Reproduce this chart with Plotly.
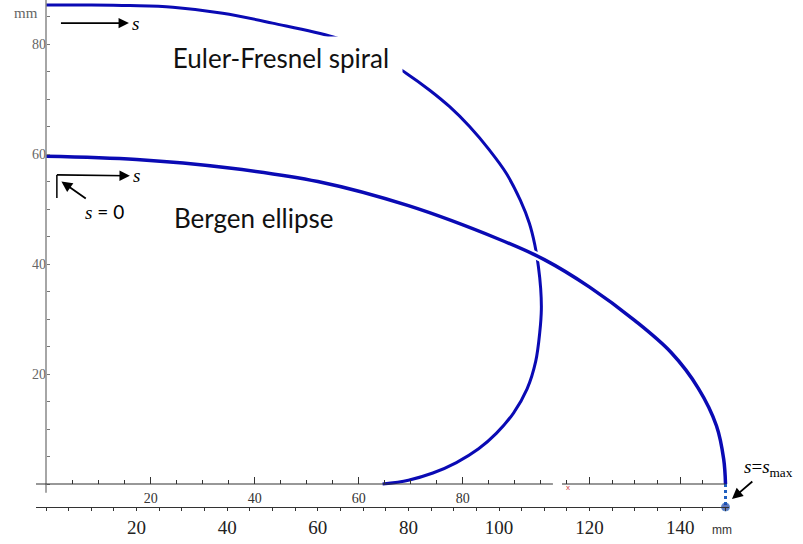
import plotly.graph_objects as go

# ---------------- data (mm) ----------------
spiral_x = [0, 10, 18.5, 28, 39, 50, 63.4, 71.5, 79.5, 84.7, 89.1, 93.5, 97.9, 101.6, 104.7,
            106.7, 107.9, 108.7, 109.2, 109.35, 109.0, 108.1, 106.2, 103.2, 99.4, 95.5, 90.6,
            85.4, 80.0, 74.3]
spiral_y = [87.1, 87.1, 87.0, 86.7, 85.6, 83.8, 81.3, 78.8, 74.7, 71.6, 68.6, 65.0, 60.7, 56.5, 51.6,
            47.4, 43.5, 39.5, 35.5, 31.8, 27.6, 22.3, 17.3, 12.9, 9.2, 6.4, 3.9,
            2.0, 0.7, 0.0]

ellipse_x = [0, 20, 40, 60, 80, 100, 110, 120, 130, 138, 144, 148, 149.6, 150]
ellipse_y = [59.6, 59.0, 57.5, 55.0, 50.6, 44.5, 40.8, 35.8, 29.7, 23.9, 17.4, 10.6, 4.5, 0]

s_max_x = [150, 150]
s_max_y = [0, -4.18]

# bottom (mm) axis labels
bottom_tickvals = [20, 40, 60, 80, 100, 120, 140]
bottom_ticktext = ["20", "40", "60", "80", "100", "120", "140"]
# inner axis (at y = 0) labels
inner_tickvals = [20, 40, 60, 80]
inner_ticktext = ["20", "40", "60", "80"]
inner_minor = [5, 10, 15, 25, 30, 35, 45, 50, 55, 65, 70, 75, 85, 90, 95]
right_major = [120, 140]
right_minor = [115, 125, 130, 135, 145]
# y axis labels
y_tickvals = [20, 40, 60, 80]
y_ticktext = ["20", "40", "60", "80"]

# ---------------- layout geometry ----------------
W, H = 803, 544
L, R, T, B = 36, 74, 0, 37
PW, PH = W - L - R, H - T - B
XMIN, XMAX = -2.208, 150.77
YMIN, YMAX = -4.18, 88.0
PX_PER_MM = PW / (XMAX - XMIN)
# inner axis uses its own scale (5.2 px per unit, zero at the y axis)
PX_PER_U = 5.2
def to_u(xmm):
    return (xmm * PX_PER_MM - 0.7) / PX_PER_U
def px_x(px):   # page pixel -> paper x
    return (px - L) / PW
def px_y(py):   # page pixel -> paper y
    return (T + PH - py) / PH
inner_pos = (0 - YMIN) / (YMAX - YMIN)
yaxis_pos = (0 - XMIN) / (XMAX - XMIN)

BLUE = "#0a0ab4"
AX = "#333333"

fig = go.Figure()
fig.add_trace(go.Scatter(x=spiral_x, y=spiral_y, mode="lines",
                         line=dict(color=BLUE, width=3, shape="spline", smoothing=1.0),
                         hoverinfo="skip", showlegend=False))
# white halo under the ellipse (gap where it crosses the spiral)
fig.add_trace(go.Scatter(x=ellipse_x, y=ellipse_y, mode="lines",
                         line=dict(color="white", width=8, shape="spline", smoothing=1.0),
                         hoverinfo="skip", showlegend=False))
fig.add_trace(go.Scatter(x=ellipse_x, y=ellipse_y, mode="lines",
                         line=dict(color=BLUE, width=3.5, shape="spline", smoothing=1.0),
                         hoverinfo="skip", showlegend=False))
fig.add_trace(go.Scatter(x=s_max_x, y=s_max_y, mode="lines+markers",
                         line=dict(color="#1f5fbf", width=3, dash="dot"),
                         marker=dict(color=["#1f3fa0", "#1f3fa0"], size=[0, 8]),
                         cliponaxis=False, hoverinfo="skip", showlegend=False))

serif = "Liberation Serif, Times New Roman, serif"
fig.update_layout(
    template="none",
    width=W, height=H,
    margin=dict(l=L, r=R, t=T, b=B, pad=0),
    paper_bgcolor="white", plot_bgcolor="white",
    showlegend=False,
    xaxis=dict(range=[XMIN, XMAX], showgrid=False, zeroline=False, automargin=False,
               showline=True, linecolor=AX, linewidth=1.2,
               ticks="outside", ticklen=3, tickwidth=1, tickcolor=AX,
               tickmode="array", tickvals=bottom_tickvals, ticktext=bottom_ticktext,
               tickfont=dict(family=serif, size=19, color="#222"),
               minor=dict(dtick=5, tick0=0, ticks="outside", ticklen=3, tickcolor=AX)),
    xaxis2=dict(overlaying="x", anchor="free", position=inner_pos, side="bottom",
                range=[to_u(XMIN), to_u(XMAX)], showgrid=False, zeroline=False,
                automargin=False, ticklabelstandoff=4,
                showline=False, ticks="inside", ticklen=7, tickwidth=1, tickcolor=AX,
                tickmode="array", tickvals=inner_tickvals, ticktext=inner_ticktext,
                tickfont=dict(family=serif, size=14, color="#333"),
                minor=dict(tickmode="array", tickvals=inner_minor, ticks="inside",
                           ticklen=4, tickcolor=AX)),
    xaxis3=dict(overlaying="x", anchor="free", position=inner_pos, side="bottom",
                range=[XMIN, XMAX], showgrid=False, zeroline=False, showline=False,
                automargin=False,
                ticks="inside", ticklen=7, tickwidth=1, tickcolor=AX,
                tickmode="array", tickvals=right_major, showticklabels=False,
                minor=dict(tickmode="array", tickvals=right_minor, ticks="inside",
                           ticklen=4, tickcolor=AX)),
    yaxis=dict(range=[YMIN, YMAX], anchor="free", position=yaxis_pos,
               showgrid=False, zeroline=False, showline=False, automargin=False,
               ticks="inside", ticklen=3, tickcolor="#777",
               tickmode="array", tickvals=y_tickvals, ticktext=y_ticktext,
               tickfont=dict(family=serif, size=14, color="#666"),
               minor=dict(dtick=5, tick0=0, ticks="inside", ticklen=3, tickcolor="#777")),
)
# dummy traces so the extra axes render
fig.add_trace(go.Scatter(x=[None], y=[None], xaxis="x2", showlegend=False))
fig.add_trace(go.Scatter(x=[None], y=[None], xaxis="x3", showlegend=False))

# axis lines drawn as shapes (y axis and the broken inner axis at y = 0)
fig.add_shape(type="line", x0=0, x1=0, y0=-1.6, y1=YMAX, xref="x", yref="y",
              line=dict(color="#888", width=1.5))
fig.add_shape(type="line", x0=XMIN, x1=111.9, y0=0, y1=0, xref="x", yref="y",
              line=dict(color=AX, width=1.2))
fig.add_shape(type="line", x0=113.9, x1=150, y0=0, y1=0, xref="x", yref="y",
              line=dict(color=AX, width=1.2))
# L-shaped corner of the s=0 marker
fig.add_shape(type="line", x0=2.4, x1=2.4, y0=56.2, y1=52.0, xref="x", yref="y",
              line=dict(color="black", width=1.5))

sans = "Lato, Open Sans, sans-serif"
arrow_style = dict(arrowcolor="black", arrowwidth=1.6)
ann = []
ann.append(dict(x=51.9, y=77.5, text="Euler-Fresnel spiral", showarrow=False, width=232,
                font=dict(family=sans, size=26, color="#111"), bgcolor="white", borderpad=5))
ann.append(dict(x=45.9, y=48.4, text="Bergen ellipse", showarrow=False,
                font=dict(family=sans, size=26, color="#111")))
# "→ s" arrows: the tail is the data point, the head sits next to the "s"
ann.append(dict(x=3.3, y=83.8, ax=75, ay=0, text="<i>s</i>", showarrow=True,
                arrowside="start", startarrowhead=2, startarrowsize=1.3, startstandoff=2,
                font=dict(family=serif, size=19, color="black"), **arrow_style))
ann.append(dict(x=2.4, y=56.2, ax=80, ay=1, text="<i>s</i>", showarrow=True,
                arrowside="start", startarrowhead=2, startarrowsize=1.3, startstandoff=2,
                font=dict(family=serif, size=19, color="black"), **arrow_style))
# "s = 0" pointing at the start corner
ann.append(dict(x=3.4, y=55.0, ax=43, ay=30, text=
                "<i><span style='font-family:Liberation Serif'>s</span></i> = 0",
                showarrow=True, arrowhead=2, arrowsize=1.2, standoff=0,
                font=dict(family=sans, size=19, color="black"),
                arrowcolor="black", arrowwidth=1.8))
# s = s_max (paper coordinates: it lies outside the plot area)
ann.append(dict(x=px_x(732), y=px_y(499), xref="paper", yref="paper", ax=36, ay=-31,
                text="<i>s</i>=<i>s</i><sub>max</sub>", showarrow=True,
                arrowhead=2, arrowsize=1.2, arrowcolor="black", arrowwidth=1.8,
                font=dict(family=serif, size=19, color="black")))
# unit labels
ann.append(dict(x=px_x(722), y=px_y(530), xref="paper", yref="paper", text="mm",
                showarrow=False, xanchor="center", yanchor="middle",
                font=dict(family="Liberation Sans, Arial", size=12, color="#333")))
ann.append(dict(x=px_x(26), y=px_y(13), xref="paper", yref="paper",
                text="mm", showarrow=False, xanchor="center", yanchor="middle",
                font=dict(family=serif, size=15, color="#666")))
ann.append(dict(x=115.2, y=-0.6, text="x", showarrow=False,
                font=dict(family="Liberation Sans", size=8, color="#d04040")))
fig.update_layout(annotations=ann)

fig.write_html("out.html", config={"displayModeBar": False},
               post_script="document.body.style.margin='0';")
